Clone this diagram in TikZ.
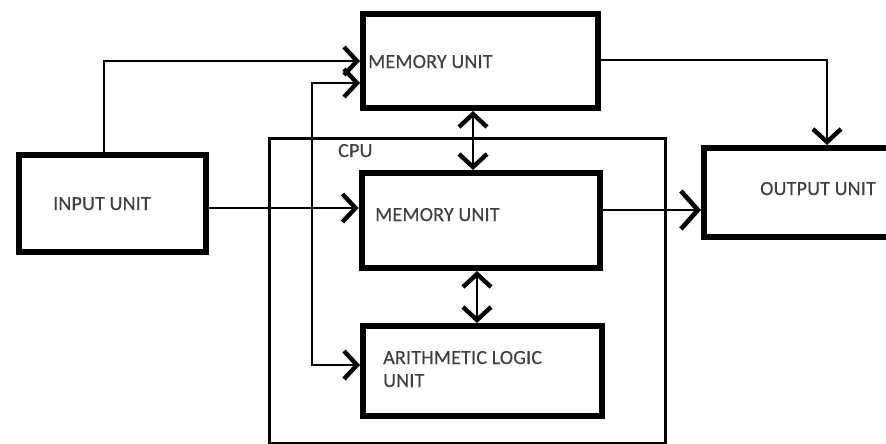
\documentclass[tikz,border=0pt]{standalone}
\usepackage{fontspec}
\newfontfamily\lblfont{Carlito}[LetterSpace=1, FakeBold=0.4]
\usetikzlibrary{arrows.meta}
\begin{document}
\begin{tikzpicture}[x=1pt,y=-1pt,
  box/.style={draw=black, line width=6pt, inner sep=0pt, anchor=north west},
  cpubox/.style={draw=black, line width=3pt, inner sep=0pt, anchor=north west},
  lbl/.style={inner sep=0pt, anchor=base west, text=black!75, font=\lblfont\fontsize{20}{23}\selectfont},
  barb/.tip={Straight Barb[length=13pt, width=28pt, line width=4.4pt]},
  bigbarb/.tip={Straight Barb[length=17pt, width=38pt, line width=4.6pt]},
  thinline/.style={line width=1.3pt, black},
  thickline/.style={line width=2.6pt, black}]
\clip (0,0) rectangle (886,444);
\fill[white] (0,0) rectangle (886,444);
% boxes
\node[cpubox, minimum width=396pt, minimum height=305pt] (cpu) at (267.5,136.5) {};
\node[box, minimum width=235pt, minimum height=94pt] (memtop) at (360,11) {};
\node[box, minimum width=187pt, minimum height=97pt] (inp) at (15.5,151.5) {};
\node[box, minimum width=238pt, minimum height=95pt] (memin) at (358.5,170) {};
\node[box, minimum width=239pt, minimum height=90pt] (alu) at (360,323) {};
\node[box, minimum width=210pt, minimum height=89pt] (out) at (701,145) {};
% labels
\node[lbl] (lmemtop) at (368,68) {MEMORY UNIT};
\node[lbl] (linp) at (53,210) {INPUT UNIT};
\node[lbl] (lcpu) at (338,157) {CPU};
\node[lbl] (lmemin) at (375,221) {MEMORY UNIT};
\node[lbl] (lout) at (760,195) {OUTPUT UNIT};
\node[lbl, align=left] (lalu) at (383,387) {ARITHMETIC LOGIC\\UNIT};
% connector coordinates
\coordinate (c1) at (104,61);
\coordinate (c2) at (312,83);
\coordinate (c3) at (312,365);
\coordinate (c4) at (0,208);
\coordinate (c5) at (473,0);
\coordinate (c6) at (477,0);
\coordinate (c7) at (827,60);
\coordinate (c8) at (0,210);
% connectors
\draw[thickline, -barb] (inp.north -| c1) -- (c1) -- (c1 -| memtop.west);
\draw[thinline, barb-barb] (c2 -| memtop.west) -- (c2) -- (c3) -- (c3 -| alu.west);
\draw[thinline, -barb] (inp.east |- c4) -- (memin.west |- c4);
\draw[thinline, barb-barb] (memtop.south -| c5) -- (memin.north -| c5);
\draw[thinline, barb-barb] (memin.south -| c6) -- (alu.north -| c6);
\draw[thinline, -barb] (memtop.east |- c7) -- (c7) -- (out.north -| c7);
\draw[thinline, -bigbarb] (memin.east |- c8) -- (out.west |- c8);
\end{tikzpicture}
\end{document}
